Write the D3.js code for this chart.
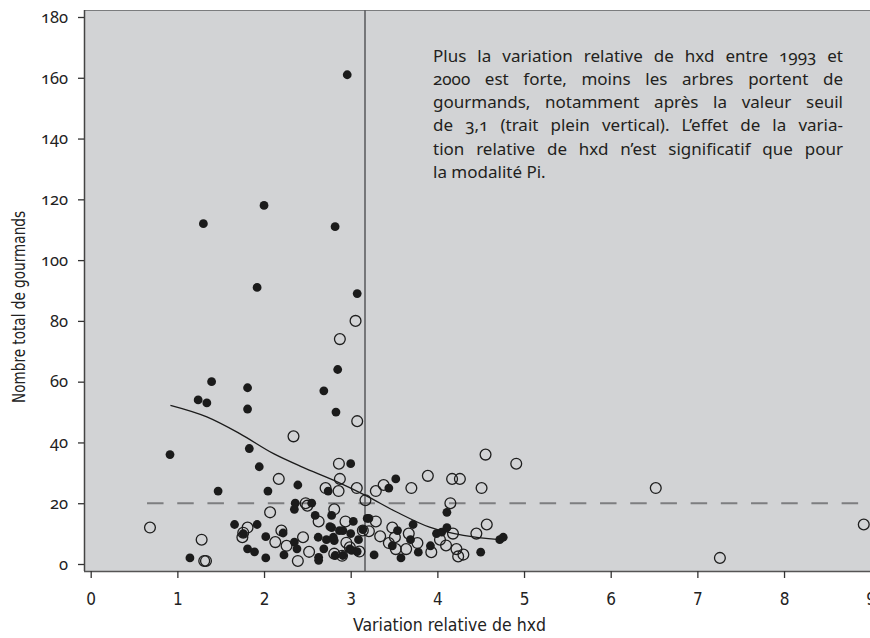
<!DOCTYPE html>
<html><head><meta charset="utf-8">
<script src="https://cdn.jsdelivr.net/npm/d3@7"></script>
<style>body{margin:0;background:#fff}svg{display:block}</style>
</head><body>
<script>
// ---- data ----
const xTickValues = [0,1,2,3,4,5,6,7,8,9];
const yTickValues = [0,20,40,60,80,100,120,140,160,180];
const thresholdX = 3.165;      // solid vertical line
const referenceY = 20;         // dashed horizontal line

// filled dots (modalité Pi)
const filledX = [2.96,2.00,1.30,2.82,1.92,3.075,2.85,1.395,1.81,2.69,1.24,1.34,1.81,2.83,0.915,1.83,1.945,3.0,1.47,2.045,2.39,2.74,
  1.145,1.66,1.76,1.92,1.81,1.89,2.02,2.02,2.22,2.23,2.35,2.38,2.36,2.35,2.55,2.59,2.625,2.63,2.63,2.78,3.03,2.78,2.87,2.91,2.72,2.80,2.69,2.81,3.0,3.09,2.99,2.82,2.91,3.01,3.075,3.19,2.76,
  3.52,3.44,4.11,3.21,3.14,3.54,3.72,3.69,3.48,3.78,3.27,3.58,3.92,3.99,4.05,4.11,4.50,4.72,4.76];
const filledY = [161,118,112,111,91,89,64,60,58,57,54,53,51,50,36,38,32,33,24,24,26,24,
  2,13,10,13,5,4,9,2,10.2,3,7.2,5,20,18,20,16,8.8,2.2,1.2,16,14,12,11,11,8,8.8,5,7.7,10,8,5,2.8,2.8,4.5,4.1,15,12.3,
  28,25,17,15,11.3,11,13,8,6,3.9,3,2,6,10,10.5,12,3.9,8,8.8];

// open circles
const openX = [3.056,2.875,3.075,2.34,2.864,2.875,2.17,3.07,2.71,2.86,3.17,0.684,1.28,1.31,1.33,1.76,1.81,1.75,2.07,2.13,2.20,2.26,2.39,2.45,2.52,2.48,2.50,2.63,2.81,2.94,2.95,2.99,2.81,2.90,3.10,3.14,
  4.556,4.91,3.89,4.17,4.26,3.38,3.29,3.70,4.51,4.15,3.29,3.21,3.34,3.48,3.51,3.67,3.77,3.44,3.52,3.64,3.93,4.03,4.10,4.18,4.22,4.24,4.30,4.45,4.57,6.52,7.26,8.92];
const openY = [80,74,47,42,33,28,28,25,25,24,21,12,8,1,1,10.3,12,8.8,17,7.2,11,6,1,8.8,4,20,19.2,14,18,14,7,5.5,3.4,2.7,4.1,11,
  36,33,29,28,28,26,24,25,25,20,14,10.8,9.1,12,8.8,10,6.9,6.9,4.9,4.9,3.9,8,6.1,10,4.9,2.5,3.1,10,13,25,2,13];

// smoothed trend
const curveX = [0.92,1.34,1.72,2.11,2.45,2.80,3.17,3.53,3.91,4.30,4.72];
const curveY = [52.2,48.4,42.9,36.3,31.8,27.6,22.6,17.1,12.1,9.4,8.0];

const annotationLines = [
  "Plus la variation relative de hxd entre 1993 et",
  "2000 est forte, moins les arbres portent de",
  "gourmands, notamment après la valeur seuil",
  "de 3,1 (trait plein vertical). L’effet de la varia-",
  "tion relative de hxd n’est significatif que pour",
  "la modalité Pi."
];
const xTitle = "Variation relative de hxd";
const yTitle = "Nombre total de gourmands";

// ---- drawing ----
const W = 870, H = 638;
const svg = d3.select("body").append("svg").attr("width", W).attr("height", H);

const x = d3.scaleLinear().domain([0, 9]).range([90.7, 870.7]);
const y = d3.scaleLinear().domain([0, 180]).range([564, 17]);
const plotL = 84, plotT = 10, plotB = 571, plotR = 880;

svg.append("rect").attr("x", plotL).attr("y", plotT).attr("width", plotR - plotL).attr("height", plotB - plotT)
  .attr("fill", "#d2d3d5");
svg.append("line").attr("x1", plotL).attr("x2", plotR).attr("y1", plotT + 0.5).attr("y2", plotT + 0.5)
  .attr("stroke", "#7b7c7e").attr("stroke-width", 1.2);

// axes
const monoFont = "'Liberation Sans Narrow','DejaVu Sans Condensed','Liberation Sans',sans-serif";
const xAxis = svg.append("g").attr("transform", `translate(0,${plotB})`)
  .call(d3.axisBottom(x).tickValues(xTickValues).tickSize(7).tickPadding(15).tickSizeOuter(0));
xAxis.select(".domain").attr("d", `M${plotL},0.5H${plotR}`).attr("stroke", "#555").attr("stroke-width", 1.5);
xAxis.selectAll(".tick line").attr("stroke", "#333").attr("stroke-width", 1.3);
xAxis.selectAll(".tick text").attr("font-family", monoFont).attr("font-size", 17).attr("fill", "#222");

const yAxis = svg.append("g").attr("transform", `translate(${plotL},0)`)
  .call(d3.axisLeft(y).tickValues(yTickValues).tickSize(6).tickPadding(10).tickSizeOuter(0));
yAxis.select(".domain").attr("d", `M0.5,${plotT}V${plotB}`).attr("stroke", "#444").attr("stroke-width", 1.5);
yAxis.selectAll(".tick line").attr("stroke", "#333").attr("stroke-width", 1.3);
yAxis.selectAll(".tick text").attr("font-family", "'Noto Sans',sans-serif").attr("font-size", 16.5)
  .style("font-variant-numeric", "oldstyle-nums").style("font-feature-settings", "'onum' 1").attr("fill", "#222");

// titles
svg.append("text").attr("x", 449.5).attr("y", 631).attr("text-anchor", "middle")
  .attr("font-family", monoFont).attr("font-size", 17).attr("fill", "#222")
  .attr("textLength", 193).attr("lengthAdjust", "spacingAndGlyphs").text(xTitle);
svg.append("text").attr("transform", "translate(25,307) rotate(-90)").attr("text-anchor", "middle")
  .attr("font-family", monoFont).attr("font-size", 17).attr("fill", "#222")
  .attr("textLength", 192).attr("lengthAdjust", "spacingAndGlyphs").text(yTitle);

// reference lines
svg.append("line").attr("x1", x(0.65)).attr("x2", plotR).attr("y1", y(referenceY)).attr("y2", y(referenceY))
  .attr("stroke", "#7d7e80").attr("stroke-width", 2).attr("stroke-dasharray", "16.5,13.7");
svg.append("line").attr("x1", x(thresholdX)).attr("x2", x(thresholdX)).attr("y1", plotT).attr("y2", plotB)
  .attr("stroke", "#5f6062").attr("stroke-width", 1.6);

// points
const openPts = openX.map((v, i) => [v, openY[i]]);
const filledPts = filledX.map((v, i) => [v, filledY[i]]);
svg.append("g").selectAll("circle").data(openPts).join("circle")
  .attr("cx", d => x(d[0])).attr("cy", d => y(d[1])).attr("r", 5.4)
  .attr("fill", "none").attr("stroke", "#1e1e1e").attr("stroke-width", 1.3);
svg.append("g").selectAll("circle").data(filledPts).join("circle")
  .attr("cx", d => x(d[0])).attr("cy", d => y(d[1])).attr("r", 4.4)
  .attr("fill", "#1b1b1b");

// trend curve
const curvePts = curveX.map((v, i) => [v, curveY[i]]);
svg.append("path").datum(curvePts)
  .attr("d", d3.line().x(d => x(d[0])).y(d => y(d[1])).curve(d3.curveMonotoneX))
  .attr("fill", "none").attr("stroke", "#1b1b1b").attr("stroke-width", 1.3);

// annotation (justified)
const annL = 433, annR = 843, annBase = 61.5, annLH = 23.3;
const ann = svg.append("g").attr("font-family", "'Noto Sans',sans-serif").attr("font-size", 17)
  .attr("fill", "#231f20").style("font-feature-settings", "'onum' 1").style("font-variant-numeric", "oldstyle-nums");
const probe = ann.append("text").text("a a");
const probe2 = ann.append("text").text("aa");
const spaceW = probe.node().getComputedTextLength() - probe2.node().getComputedTextLength();
probe.remove(); probe2.remove();
annotationLines.forEach((line, i) => {
  const words = line.split(" ");
  const t = ann.append("text").attr("y", annBase + i * annLH);
  const spans = words.map(w => t.append("tspan").text(w));
  const widths = spans.map(s => s.node().getComputedTextLength());
  const total = d3.sum(widths);
  const last = i === annotationLines.length - 1;
  const gap = last ? spaceW : Math.max(2.5, (annR - annL - total) / (words.length - 1));
  let cx = annL;
  spans.forEach((s, j) => { s.attr("x", cx); cx += widths[j] + gap; });
});
</script>
</body></html>
